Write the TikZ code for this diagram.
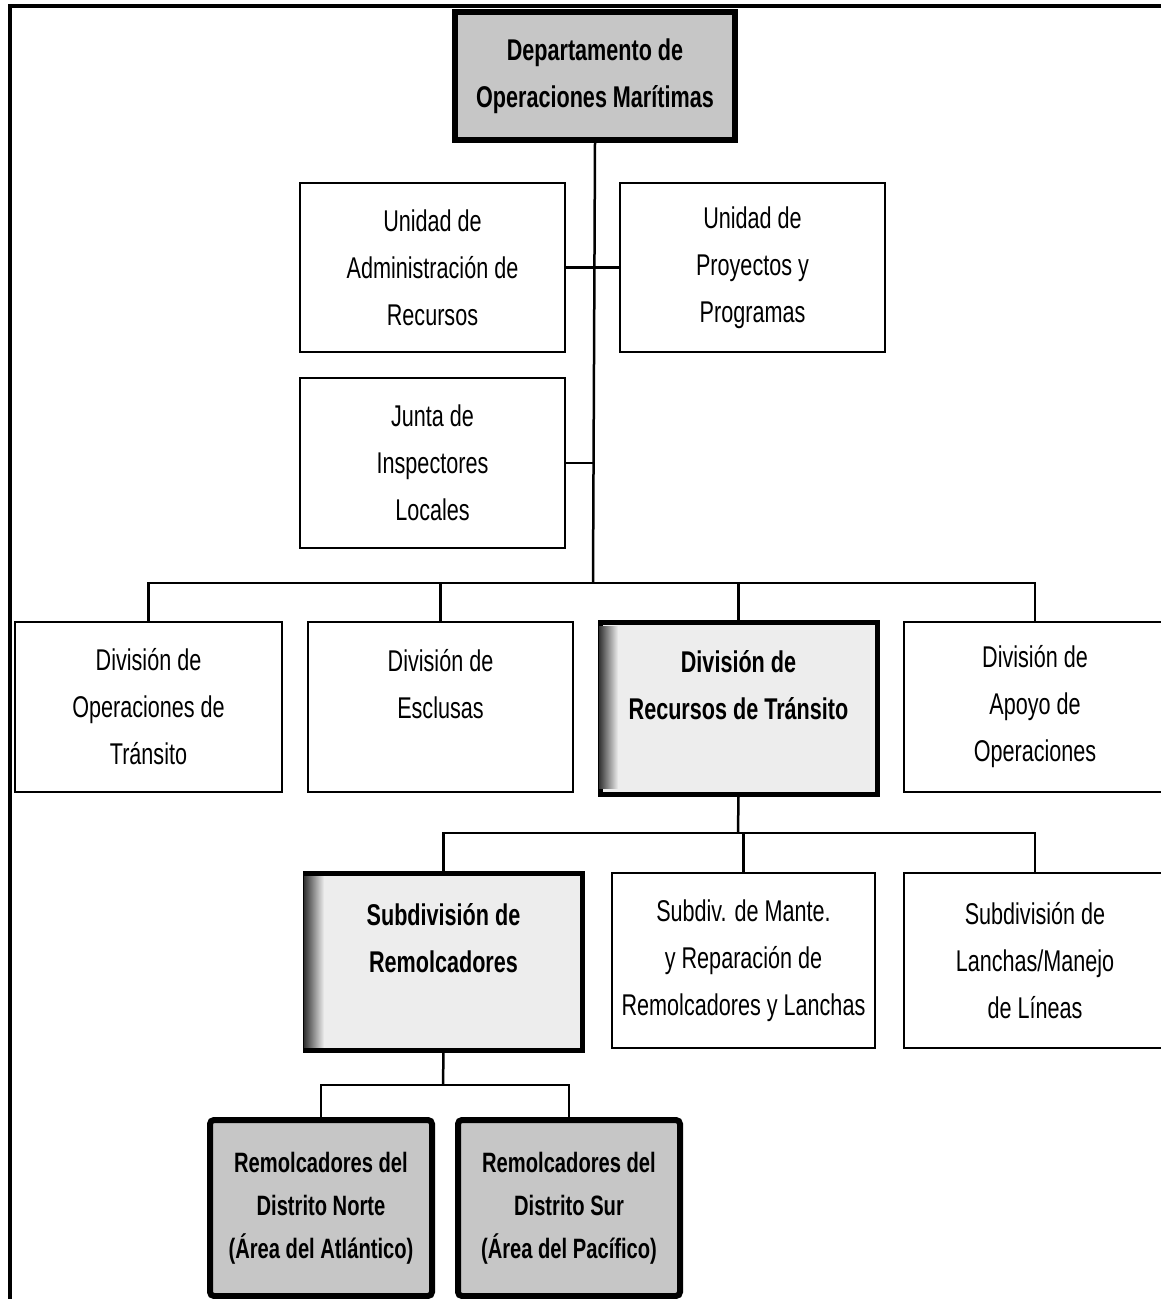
\documentclass[tikz,border=0pt]{standalone}
\usepackage{fontspec}
\setmainfont{Liberation Sans}[FakeStretch=0.72]
\begin{document}
\begin{tikzpicture}[x=1pt,y=-1pt,
  plain/.style={draw=black,line width=2.5pt,fill=white,align=center,inner sep=0pt,
    font=\fontsize{30}{47}\selectfont},
  darkbox/.style={draw=black,line width=6pt,fill=gray!45,align=center,inner sep=0pt,
    font=\fontsize{30}{47}\selectfont\bfseries},
  bevelbox/.style={draw=black,line width=5pt,fill=gray!14,align=center,inner sep=0pt,
    font=\fontsize{30}{47}\selectfont\bfseries},
  boldtext/.style={font=\fontsize{30}{47}\selectfont\bfseries,align=center,inner sep=0pt},
  conn/.style={line width=2.5pt,black},
  frame/.style={line width=3.5pt,black}]
\useasboundingbox (0,0) rectangle (1161,1299);
\draw[frame] (10,1299) -- (10,6) -- (1161,6);
% top
\node[darkbox,minimum width=280pt,minimum height=128pt] (dep) at (595,76)
  {Departamento de\\Operaciones Marítimas};
% units
\node[plain,minimum width=265pt,minimum height=169pt] (ua) at (432.5,267.5)
  {Unidad de\\Administración de\\Recursos};
\node[plain,minimum width=265pt,minimum height=169pt] (up) at (752.5,267.5)
  {Unidad de\\Proyectos y\\Programas};
\node[plain,minimum width=265pt,minimum height=170pt] (jl) at (432.5,463)
  {Junta de\\Inspectores\\Locales};
% divisions
\node[plain,minimum width=267pt,minimum height=170pt] (d1) at (148.5,707)
  {División de\\Operaciones de\\Tránsito};
\node[plain,minimum width=265pt,minimum height=170pt] (d2) at (440.5,707)
  {División de\\Esclusas\\\mbox{}};
\node[bevelbox,minimum width=277pt,minimum height=172pt] (d3) at (738.5,708) {};
\shade[left color=black!80,right color=gray!14] (599,626) rectangle (618,788);
\node[boldtext] (d3t) at (d3) {División de\\Recursos de Tránsito\\\mbox{}};
\node[plain,minimum width=262pt,minimum height=170pt] (d4) at (1035,707)
  {División de\\Apoyo de\\Operaciones};
% subdivisions
\node[bevelbox,minimum width=277pt,minimum height=177pt] (s1) at (443.5,961.5) {};
\shade[left color=black!80,right color=gray!14] (304,876) rectangle (324,1047);
\node[boldtext] (s1t) at (s1) {Subdivisión de\\Remolcadores\\\mbox{}};
\node[plain,minimum width=263pt,minimum height=175pt] (s2) at (743.5,960.5)
  {Subdiv. de Mante.\\y Reparación de\\Remolcadores y Lanchas};
\node[plain,minimum width=262pt,minimum height=175pt] (s3) at (1035,960.5)
  {Subdivisión de\\Lanchas/Manejo\\de Líneas};
% bottom
\node[darkbox,rounded corners=4pt,minimum width=222pt,minimum height=176pt,
  font=\fontsize{28}{43}\selectfont\bfseries] (b1) at (321,1208)
  {Remolcadores del\\Distrito Norte\\(Área del Atlántico)};
\node[darkbox,rounded corners=4pt,minimum width=222pt,minimum height=176pt,
  font=\fontsize{28}{43}\selectfont\bfseries] (b2) at (569,1208)
  {Remolcadores del\\Distrito Sur\\(Área del Pacífico)};
% connectors
\coordinate (bus1) at (593,583);
\coordinate (bus2) at (738,833);
\coordinate (bus3) at (443,1085);
\draw[conn] (dep.south) -- (bus1);
\draw[conn] (ua.east) -- (up.west);
\draw[conn] (jl.east) -- (jl.east -| bus1);
\draw[conn] (d1.north) |- (bus1 -| d4.north) -- (d4.north);
\draw[conn] (d2.north) -- (d2.north |- bus1);
\draw[conn] (d3.north) -- (d3.north |- bus1);
\draw[conn] (d3.south) -- (bus2);
\draw[conn] (s1.north) |- (bus2 -| s3.north) -- (s3.north);
\draw[conn] (s2.north) -- (s2.north |- bus2);
\draw[conn] (s1.south) -- (bus3);
\draw[conn] (b1.north) |- (bus3 -| b2.north) -- (b2.north);
\end{tikzpicture}
\end{document}
